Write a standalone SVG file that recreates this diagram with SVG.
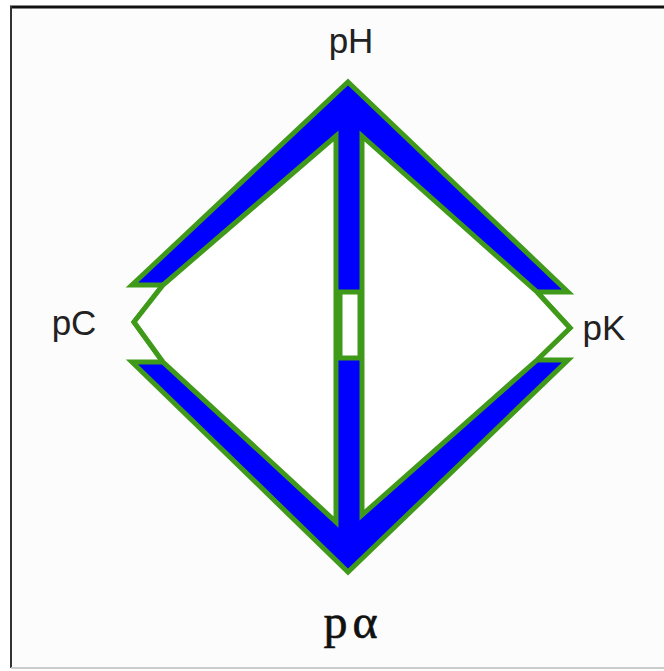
<svg xmlns="http://www.w3.org/2000/svg" width="664" height="671" viewBox="0 0 664 671">
<style>
.lbl{font-family:"Liberation Sans",Arial,sans-serif;font-size:35px;fill:#222}
.band{fill:#0000ff;stroke:#3f9a1a;stroke-width:5;stroke-linejoin:miter}
.hole{fill:#ffffff;stroke:#3f9a1a;stroke-width:5;stroke-linejoin:miter}
</style>
<rect x="0" y="0" width="664" height="671" fill="#ffffff"/>
<rect x="11" y="7" width="653" height="661" fill="#fcfcfc"/>
<line x1="10" y1="7" x2="664" y2="7" stroke="#111" stroke-width="3"/>
<line x1="11" y1="6" x2="11" y2="668" stroke="#333" stroke-width="2"/>
<line x1="11" y1="668" x2="664" y2="668" stroke="#ccc" stroke-width="2"/>
<g id="frame">
<polygon class="band" points="348,82 568,292 537,292 570,328 537,360 568,360 348,572 132,362 163,362 134,322 163,285 132,285"/>
</g>
<g id="left-region">
<polygon class="hole" points="336,136 163,285 134,322 163,362 336,522"/>
</g>
<g id="right-region">
<polygon class="hole" points="362,136 537,292 570,328 537,360 362,515"/>
</g>
<g id="stem-gap">
<rect class="hole" x="340" y="292" width="20" height="66"/>
</g>
<g id="pH"><text class="lbl" x="351" y="53" text-anchor="middle">pH</text></g>
<g id="pC"><text class="lbl" x="74" y="335" text-anchor="middle">pC</text></g>
<g id="pK"><text class="lbl" x="604" y="340" text-anchor="middle">pK</text></g>
<g id="palpha"><text x="353" y="638" text-anchor="middle" font-family="'Liberation Serif','Times New Roman',serif" font-size="48" fill="#111" stroke="#111" stroke-width="0.6" letter-spacing="5">pα</text></g>
</svg>
